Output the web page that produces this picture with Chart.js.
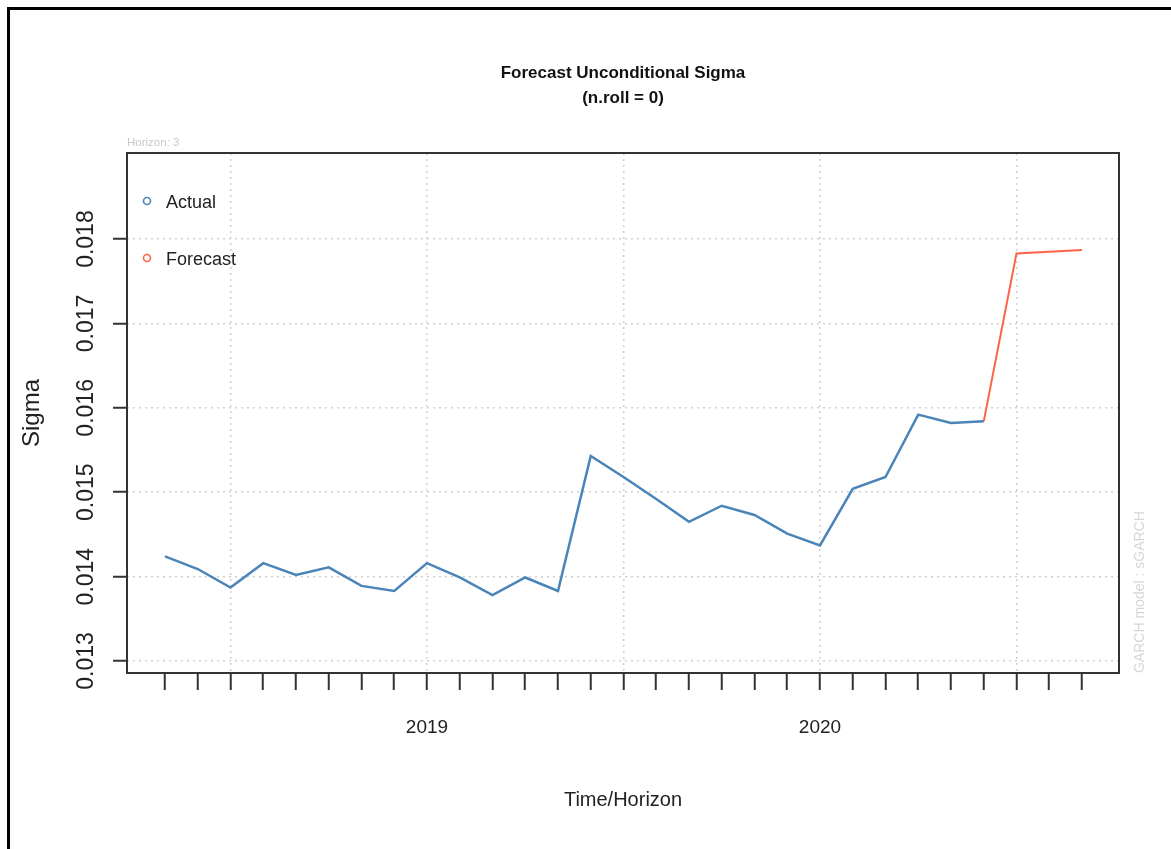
<!DOCTYPE html>
<html>
<head>
<meta charset="utf-8">
<title>Forecast Unconditional Sigma</title>
<script src="https://cdn.jsdelivr.net/npm/chart.js@4.4.1/dist/chart.umd.min.js"></script>
<style>
  html, body { margin: 0; padding: 0; background: #fff; }
  canvas { display: block; }
</style>
</head>
<body>
<canvas id="sigmaChart" width="1171" height="849"></canvas>
<script>
// DATA (monthly, index 0 = May 2018)
const actualSigma = [
  0.01424, 0.01409, 0.01387, 0.01416, 0.01402, 0.01411, 0.01389, 0.01383,
  0.01416, 0.01399, 0.01378, 0.01399, 0.01383, 0.01543, 0.01518, 0.01492,
  0.01465, 0.01484, 0.01473, 0.01451, 0.01437, 0.01504, 0.01518, 0.01592,
  0.01582, 0.01584
];
const forecastSigma = [0.01783, 0.01785, 0.01787];
const yTicks = [0.013, 0.014, 0.015, 0.016, 0.017, 0.018];
const yearTickPos = [8, 20];
const yearTickText = ["2019", "2020"];
const xGridPos = [2, 8, 14, 20, 26];

const FONT = '"Liberation Sans", Arial, sans-serif';
const nMonths = actualSigma.length + forecastSigma.length;
const xTicks = Array.from({ length: nMonths }, (_, i) => i);

const actualData = actualSigma.map((v, i) => ({ x: i, y: v }));
const lastIdx = actualSigma.length - 1;
const forecastData = [{ x: lastIdx, y: actualSigma[lastIdx] }].concat(
  forecastSigma.map((v, i) => ({ x: lastIdx + 1 + i, y: v }))
);

// PLUGINS
const pageFrame = {
  id: "pageFrame",
  beforeDraw(chart) {
    const c = chart.ctx;
    c.save();
    c.fillStyle = "#fff";
    c.fillRect(0, 0, chart.width, chart.height);
    c.restore();
  },
  afterDraw(chart) {
    const c = chart.ctx;
    const a = chart.chartArea;
    c.save();
    // plot box
    c.strokeStyle = "#333";
    c.lineWidth = 2;
    c.strokeRect(a.left, a.top, a.right - a.left, a.bottom - a.top);
    // outer frame
    c.fillStyle = "#000";
    c.fillRect(7, 7, 3, chart.height);
    c.fillRect(7, 7, chart.width, 3);
    c.restore();
  }
};

const extraText = {
  id: "extraText",
  afterDraw(chart) {
    const c = chart.ctx;
    const a = chart.chartArea;
    const ys = chart.scales.y;

    c.save();
    // rotated y tick labels
    c.font = "23px " + FONT;
    c.fillStyle = "#222";
    c.textAlign = "center";
    c.textBaseline = "middle";
    ys.ticks.forEach(t => {
      c.save();
      c.translate(87, ys.getPixelForValue(t.value));
      c.rotate(-Math.PI / 2);
      c.fillText(t.value.toFixed(3), 0, 0);
      c.restore();
    });

    // horizon note
    c.font = "11.5px " + FONT;
    c.fillStyle = "#c8c8c8";
    c.textAlign = "left";
    c.fillText("Horizon: 3", a.left, 143);

    // model note on the right
    c.save();
    c.translate(1140, a.bottom);
    c.rotate(-Math.PI / 2);
    c.font = "14px " + FONT;
    c.fillStyle = "#d6d6d6";
    c.textAlign = "left";
    c.fillText("GARCH model : sGARCH", 0, 0);
    c.restore();

    // legend (open circles)
    const rows = [201, 258];
    chart.data.datasets.forEach((ds, i) => {
      const y = rows[i];
      c.beginPath();
      c.arc(a.left + 20, y, 3.5, 0, Math.PI * 2);
      c.strokeStyle = ds.borderColor;
      c.lineWidth = 1.6;
      c.stroke();
      c.font = "18px " + FONT;
      c.fillStyle = "#222";
      c.textAlign = "left";
      c.fillText(ds.label, a.left + 39, y + 2);
    });
    c.restore();
  }
};

// CHART
const ctx = document.getElementById("sigmaChart");

new Chart(ctx, {
  type: "line",
  data: {
    datasets: [
      {
        label: "Actual",
        data: actualData,
        borderColor: "#4a84b8",
        borderWidth: 2.5,
        pointRadius: 0,
        tension: 0,
        fill: false
      },
      {
        label: "Forecast",
        data: forecastData,
        borderColor: "#ff6347",
        borderWidth: 2,
        pointRadius: 0,
        tension: 0,
        fill: false
      }
    ]
  },
  options: {
    responsive: false,
    animation: false,
    devicePixelRatio: 1,
    layout: { padding: { left: 0, right: 52, top: 0, bottom: 0 } },
    plugins: {
      legend: { display: false },
      tooltip: { enabled: false },
      title: {
        display: true,
        fullSize: false,
        text: ["Forecast Unconditional Sigma", "(n.roll = 0)"],
        color: "#111",
        font: { family: FONT, size: 17, weight: "bold", lineHeight: "25px" },
        padding: { top: 60.5, bottom: 42.5 }
      }
    },
    scales: {
      x: {
        type: "linear",
        min: -1.16,
        max: 29.13,
        afterBuildTicks: s => { s.ticks = xTicks.map(v => ({ value: v })); },
        afterFit: s => { s.height = 176; },
        grid: {
          color: c => xGridPos.includes(c.tick && c.tick.value) ? "#d0d0d0" : "rgba(0,0,0,0)",
          lineWidth: 1.5,
          tickColor: "#333",
          tickWidth: 2,
          tickLength: 17
        },
        border: { display: false, dash: [2, 4] },
        ticks: {
          autoSkip: false,
          maxRotation: 0,
          minRotation: 0,
          padding: 26,
          color: "#222",
          font: { family: FONT, size: 19 },
          callback: v => {
            const k = yearTickPos.indexOf(v);
            return k >= 0 ? yearTickText[k] : "";
          }
        },
        title: {
          display: true,
          text: "Time/Horizon",
          color: "#222",
          font: { family: FONT, size: 20 },
          padding: { top: 0, bottom: 37 }
        }
      },
      y: {
        min: 0.012858,
        max: 0.01902,
        afterBuildTicks: s => { s.ticks = yTicks.map(v => ({ value: v })); },
        afterFit: s => { s.width = 127; },
        grid: {
          color: "#d0d0d0",
          lineWidth: 1.5,
          tickColor: "#333",
          tickWidth: 2,
          tickLength: 14
        },
        border: { display: false, dash: [2, 4] },
        ticks: { display: false },
        title: {
          display: true,
          text: "Sigma",
          color: "#222",
          font: { family: FONT, size: 24 },
          padding: { top: 18, bottom: 0 }
        }
      }
    }
  },
  plugins: [pageFrame, extraText]
});
</script>
</body>
</html>
